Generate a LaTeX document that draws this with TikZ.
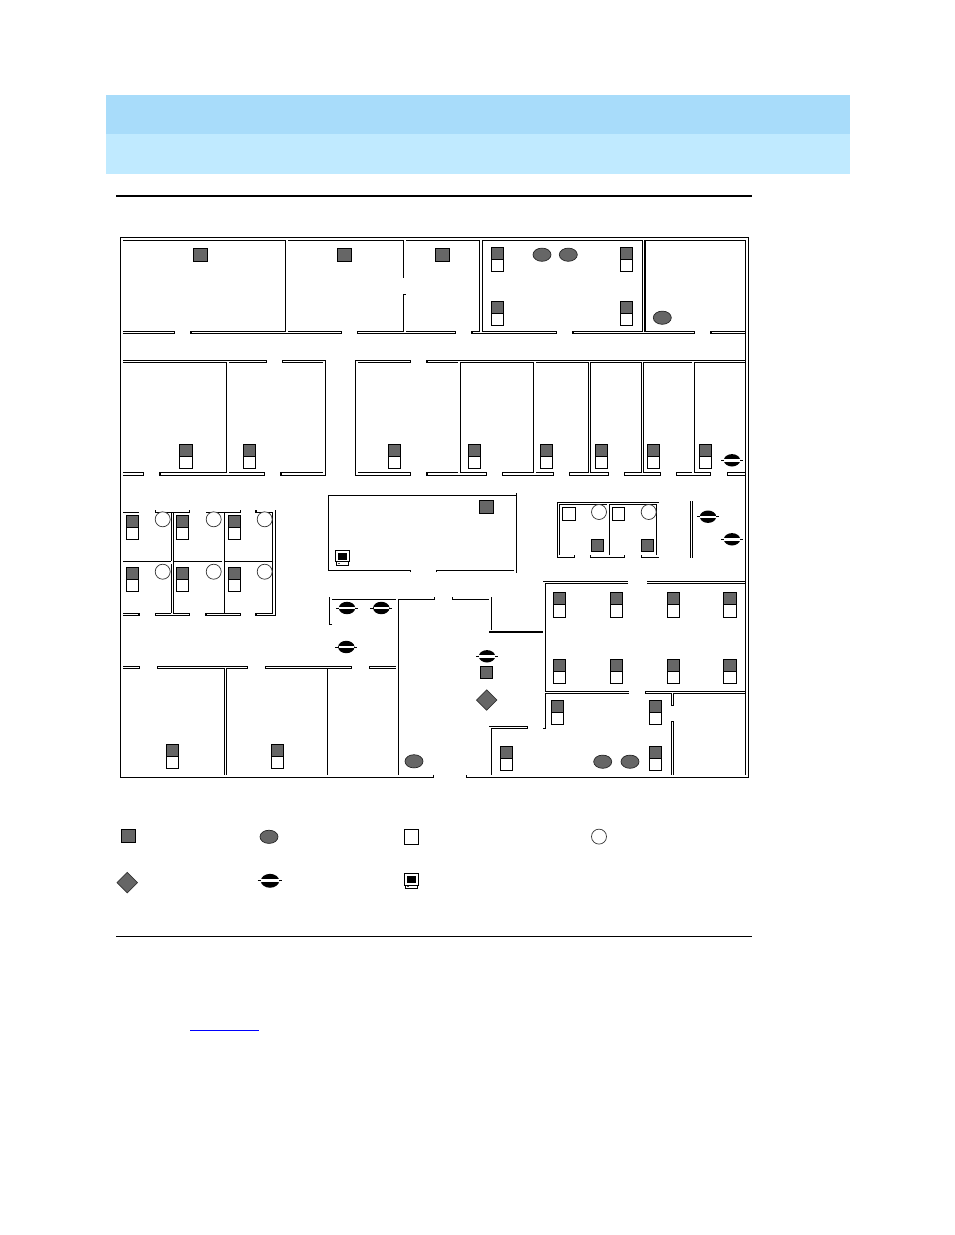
\documentclass[tikz,border=0pt]{standalone}
\definecolor{bandA}{HTML}{A8DCFA}
\definecolor{bandB}{HTML}{C0EAFF}
\definecolor{symgray}{HTML}{666666}
\tikzset{
  wall/.style={line width=1.05pt,draw=black,line cap=butt,line join=miter},
  symbox/.style={line width=1pt,draw=black,fill=symgray},
  whitebox/.style={line width=1pt,draw=black,fill=white},
  symell/.style={line width=0.7pt,draw=black!85,fill=symgray},
  symcirc/.style={line width=0.7pt,draw=black!80,fill=white}
}
% combined gray and white stack: centre x, top y
\newcommand{\combo}[2]{\begin{scope}[shift={(#1,#2)}]
  \draw[whitebox] (-6.2,12) rectangle (6.2,24.6);
  \draw[symbox] (-6.2,0) rectangle (6.2,12);
\end{scope}}
\newcommand{\grsq}[2]{\begin{scope}[shift={(#1,#2)}]\draw[symbox] (-6.9,-6.7) rectangle (6.9,6.7);\end{scope}}
\newcommand{\smsq}[2]{\begin{scope}[shift={(#1,#2)}]\draw[symbox] (-6.2,-6.2) rectangle (6.2,6.2);\end{scope}}
\newcommand{\wtsq}[4]{\draw[whitebox] (#1,#2) rectangle (#3,#4);}
\newcommand{\ovalsym}[2]{\draw[symell] (#1,#2) ellipse [x radius=9,y radius=6.6];}
\newcommand{\circsym}[2]{\draw[symcirc] (#1,#2) circle [radius=7.5];}
\newcommand{\phonesym}[3][1]{\begin{scope}[shift={(#2,#3)},scale=#1]
  \fill[black] (0,0) ellipse [x radius=8.2,y radius=6.2];
  \draw[line width=0.9pt] (-11,0) -- (11,0);
  \fill[white] (-7.8,-1.2) rectangle (7.8,1.2);
\end{scope}}
\newcommand{\diamsym}[2]{\begin{scope}[shift={(#1,#2)}]
  \draw[line width=0.7pt,draw=black!80,fill=symgray] (-10.2,0) -- (0,-10.2) -- (10.2,0) -- (0,10.2) -- cycle;
\end{scope}}
\newcommand{\compsym}[2]{\begin{scope}[shift={(#1,#2)}]
  \draw[line width=0.8pt,fill=white] (1.4,11.5) rectangle (13.2,15);
  \draw[line width=0.9pt,fill=white] (0.4,0.4) rectangle (14.2,11.5);
  \fill[black] (3,2.4) rectangle (11.6,9.2);
  \fill[black!70] (3,12.6) rectangle (5,13.6);
\end{scope}}
\begin{document}
\begin{tikzpicture}[x=1pt,y=-1pt]
\useasboundingbox (0,0) rectangle (954,1235);
\fill[white] (0,0) rectangle (954,1235);
% header bands and rules
\fill[bandA] (106,95) rectangle (850,134.3);
\fill[bandB] (106,134.3) rectangle (850,174);
\fill[black] (116,195) rectangle (752,197);
\fill[black] (116,935.9) rectangle (752,936.9);
\fill[blue] (190,1029.5) rectangle (259,1030.5);
% outer frame
\draw[wall] (433.3,774.7)--(433.3,777.3)--(120.3,777.3)--(120.3,237.3)--(748.3,237.3)--(748.3,777.3)--(466.3,777.3)--(466.3,774.7);
\draw[wall] (745.3,240.3)--(745.3,774.7);
% top row of rooms
\draw[wall] (123,240.3)--(285.7,240.3)--(285.7,331.3)--(191,331.3)--(191,333.5)--(341.7,333.5)--(341.7,331.3)--(288,331.3);
\draw[wall] (123,331.3)--(174.7,331.3)--(174.7,333.5)--(123,333.5);
\draw[wall] (288,240.3)--(403.7,240.3)--(403.7,277.7);
\draw[wall] (406,294.3)--(403.7,294.3)--(403.7,331.3)--(357.3,331.3)--(357.3,333.5)--(455.7,333.5)--(455.7,331.3)--(406,331.3);
\draw[wall] (406,240.3)--(479.7,240.3)--(479.7,331.3)--(472,331.3)--(472,333.5)--(556.7,333.5)--(556.7,331.3)--(482.3,331.3)--(482.3,240.3)--(642.3,240.3)--(642.3,331.3)--(573,331.3)--(573,333.5)--(694.7,333.5)--(694.7,331.3)--(645,331.3)--(645,240.3)--(745.3,240.3);
\draw[wall] (745.3,331.3)--(711,331.3)--(711,333.5)--(745.3,333.5);
% second row of rooms
\draw[wall] (123,360.3)--(266.7,360.3)--(266.7,362.5)--(229,362.5);
\draw[wall] (123,362.5)--(226.3,362.5)--(226.3,472.3)--(160,472.3)--(160,475.3)--(264.7,475.3)--(264.7,472.3)--(229,472.3);
\draw[wall] (123,472.3)--(143.3,472.3)--(143.3,475.3)--(123,475.3);
\draw[wall] (323,362.5)--(282.3,362.5)--(282.3,360.3)--(325.7,360.3)--(325.7,475.3)--(281,475.3)--(281,472.3)--(323,472.3);
\draw[wall] (358,362.5)--(410.7,362.5)--(410.7,360.3)--(355.3,360.3)--(355.3,475.3)--(410.7,475.3)--(410.7,472.3)--(358,472.3);
\draw[wall] (745.3,360.3)--(427,360.3)--(427,362.5)--(458,362.5);
\draw[wall] (460.3,472.3)--(460.3,362.5)--(533.7,362.5)--(533.7,472.3);
\draw[wall] (536,362.5)--(588.7,362.5)--(588.7,472.3);
\draw[wall] (590.3,472.3)--(590.3,362.5)--(641.7,362.5)--(641.7,472.3);
\draw[wall] (643.3,472.3)--(643.3,362.5)--(691.7,362.5);
\draw[wall] (694.3,472.3)--(694.3,362.5)--(745.3,362.5);
\draw[wall] (458,472.3)--(427,472.3)--(427,475.3)--(486.7,475.3)--(486.7,472.3)--(460.3,472.3);
\draw[wall] (533.7,472.3)--(502.3,472.3)--(502.3,475.3)--(553.7,475.3)--(553.7,472.3)--(536,472.3);
\draw[wall] (588.7,472.3)--(569.3,472.3)--(569.3,475.3)--(608.7,475.3)--(608.7,472.3)--(590.3,472.3);
\draw[wall] (641.7,472.3)--(624.3,472.3)--(624.3,475.3)--(660.7,475.3)--(660.7,472.3)--(643.3,472.3);
\draw[wall] (691.7,472.3)--(676.3,472.3)--(676.3,475.3)--(710.7,475.3)--(710.7,472.3)--(694.3,472.3);
\draw[wall] (745.3,472.3)--(727.3,472.3)--(727.3,475.3)--(745.3,475.3);
% cubicle block
\draw[wall] (123,512.3)--(139,512.3);
\draw[wall] (155.3,510)--(155.3,512.3)--(189.7,512.3)--(189.7,510);
\draw[wall] (206,512.3)--(240.7,512.3)--(240.7,510);
\draw[wall] (256,510)--(256,512.3)--(272.7,512.3)--(272.7,613.3)--(256,613.3)--(256,615.7)--(275.7,615.7)--(275.7,510);
\draw[wall] (171.3,512.3)--(171.3,561.3) (171.3,564)--(171.3,613.3);
\draw[wall] (173.3,512.3)--(173.3,613.3);
\draw[wall] (224.3,512.3)--(224.3,613.3);
\draw[wall] (123,561.3)--(171.3,561.3) (173.3,561.3)--(222.3,561.3) (224.3,561.3)--(272.7,561.3);
\draw[wall] (123,613.3)--(139,613.3)--(139,615.7)--(123,615.7);
\draw[wall] (171.3,613.3)--(155.3,613.3)--(155.3,615.7)--(189.7,615.7)--(189.7,613.3)--(173.3,613.3);
\draw[wall] (206,613.3)--(240.7,613.3)--(240.7,615.7)--(206,615.7)--cycle;
% central room
\draw[wall] (410.7,572)--(410.7,570.3)--(328.3,570.3)--(328.3,495.3)--(516.3,495.3);
\draw[wall] (516.3,493.3)--(516.3,572.7);
\draw[wall] (436.2,572)--(436.2,570.3)--(514,570.3);
% lower middle corridor
\draw[wall] (332,624.3)--(329.3,624.3)--(329.3,597);
\draw[wall] (332,599.3)--(396,599.3);
\draw[wall] (434.7,597)--(434.7,599.3)--(398.3,599.3)--(398.3,774.7);
\draw[wall] (452.3,597)--(452.3,599.3)--(489,599.3);
\draw[wall] (491.3,597)--(491.3,629.7);
\draw[wall] (489,632)--(543,632);
% lower left rooms
\draw[wall] (123,666.7)--(139.7,666.7)--(139.7,668.7)--(123,668.7);
\draw[wall] (224.3,774.7)--(224.3,668.7)--(157.3,668.7)--(157.3,666.7)--(247.7,666.7)--(247.7,668.7)--(226.3,668.7)--(226.3,774.7);
\draw[wall] (327.7,774.7)--(327.7,668.7)--(265.3,668.7)--(265.3,666.7)--(351.7,666.7)--(351.7,668.7)--(327.7,668.7);
\draw[wall] (396,666.7)--(369.3,666.7)--(369.3,668.7)--(396,668.7);
% small double-office room
\draw[wall] (574.7,555)--(574.7,557.3)--(557.3,557.3)--(557.3,502.3)--(659,502.3);
\draw[wall] (559.3,555)--(559.3,504.3)--(607,504.3);
\draw[wall] (609.3,555)--(609.3,504.3)--(656.7,504.3)--(656.7,555);
\draw[wall] (590.3,555)--(590.3,557.3)--(624.7,557.3)--(624.7,555);
\draw[wall] (641.3,555)--(641.3,557.3)--(659,557.3);
\draw[wall] (690.3,501)--(690.3,557.7) (692.3,501)--(692.3,557.7);
% big east room
\draw[wall] (543,581.7)--(628,581.7);
\draw[wall] (628,583.7)--(545.3,583.7)--(545.3,691.3)--(629,691.3);
\draw[wall] (647.3,581.7)--(745.3,581.7) (647.3,583.7)--(745.3,583.7);
\draw[wall] (629,693.3)--(545.3,693.3)--(545.3,728.3)--(543,728.3);
\draw[wall] (645.3,691.3)--(745.3,691.3);
\draw[wall] (671.3,693.3)--(645.3,693.3)--(645.3,691.3);
\draw[wall] (671.3,693.3)--(671.3,705.7)--(673.7,705.7)--(673.7,693.3)--(745.3,693.3);
\draw[wall] (671.3,774.7)--(671.3,721.3)--(673.7,721.3)--(673.7,774.7);
\draw[wall] (491.3,774.7)--(491.3,728.3)--(527.7,728.3)--(527.7,726.3)--(489,726.3);
% gray squares
\grsq{200.5}{255} \grsq{344.5}{255} \grsq{442.4}{255} \grsq{486.3}{507} \grsq{128.4}{835.9}
\smsq{486.5}{672.5} \smsq{597.5}{545.5} \smsq{647.5}{545.5}
% stacked units
\combo{497.5}{247.3} \combo{626.5}{247.3} \combo{497.5}{301.3} \combo{626.5}{301.3}
\combo{186}{444.3} \combo{249.5}{444.3} \combo{394.5}{444.3} \combo{474.5}{444.3}
\combo{546.5}{444.3} \combo{601.5}{444.3} \combo{653.5}{444.3} \combo{705.5}{444.3}
\combo{132.5}{515.3} \combo{182.5}{515.3} \combo{234.5}{515.3}
\combo{132.5}{567.3} \combo{182.5}{567.3} \combo{234.5}{567.3}
\combo{172.5}{744.3} \combo{277.5}{744.3}
\combo{559.5}{592.5} \combo{616.5}{592.5} \combo{673.5}{592.5} \combo{730}{592.5}
\combo{559.5}{659.3} \combo{616.5}{659.3} \combo{673.5}{659.3} \combo{730}{659.3}
\combo{557.5}{700.3} \combo{655.5}{700.3} \combo{655.5}{746.3} \combo{506.5}{746.3}
% ovals
\ovalsym{542}{254.7} \ovalsym{568.3}{254.7} \ovalsym{662.3}{317.7} \ovalsym{414}{761.3}
\ovalsym{602.7}{761.7} \ovalsym{630}{761.7} \ovalsym{269}{836.8}
% circles
\circsym{162.7}{519.3} \circsym{213.7}{519.3} \circsym{264.7}{519.3}
\circsym{162.7}{571.7} \circsym{213.7}{571.7} \circsym{264.7}{571.7}
\circsym{599}{512} \circsym{648.7}{512} \circsym{599}{836.6}
% white squares
\wtsq{562.3}{507.3}{575.7}{520.7} \wtsq{612.3}{507.3}{624.7}{520.7} \wtsq{404.4}{829.5}{418.6}{844}
% phones
\phonesym{732}{460.3} \phonesym{708}{516.7} \phonesym{732}{539.3}
\phonesym{347}{608} \phonesym{381.3}{608} \phonesym{346.3}{647}
\phonesym{487}{656.3} \phonesym[1.12]{270}{880.8}
% diamonds
\diamsym{486.7}{700} \diamsym{127.2}{882.6}
% computers
\compsym{335.3}{550.3} \compsym{404.4}{873.5}
\end{tikzpicture}
\end{document}
